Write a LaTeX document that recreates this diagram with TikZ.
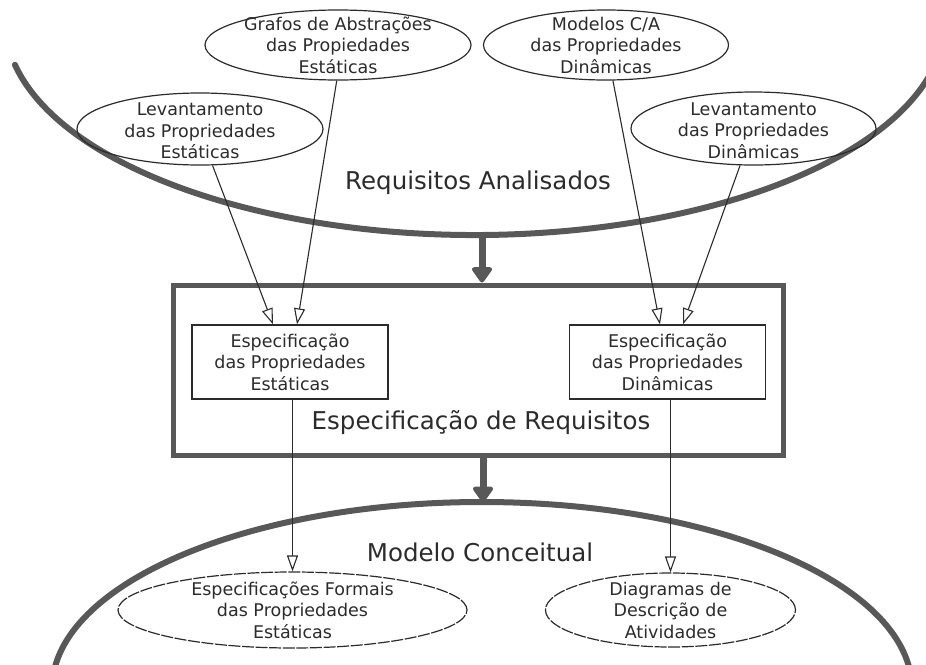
\documentclass[tikz,border=0pt]{standalone}
\usepackage{fontspec}
\setmainfont{DejaVu Sans}
\usetikzlibrary{arrows.meta,shapes.geometric}
\definecolor{ink}{HTML}{2B2B2B}
\definecolor{heavy}{HTML}{585858}

\begin{document}
\begin{tikzpicture}[x=1pt,y=-1pt,
  every node/.style={text=ink},
  small/.style={font=\fontsize{17.5}{21.5}\selectfont, align=center},
  big/.style={font=\fontsize{24.5}{28}\selectfont},
  oval/.style={ellipse, draw=ink, line width=1.2pt, inner sep=0pt},
  dashoval/.style={oval, dash pattern=on 12pt off 1.6pt},
  specbox/.style={rectangle, draw=ink, line width=1.3pt, minimum width=196pt,
    minimum height=74pt, inner sep=0pt, small},
  frame/.style={rectangle, draw=heavy, line width=5pt, minimum width=610pt,
    minimum height=170pt, inner sep=0pt},
  flow/.style={draw=ink, line width=1.1pt,
    -{Triangle[width=11pt, length=16pt, fill=white]}},
  bigflow/.style={draw=heavy, line width=7pt,
    -{Triangle[width=23pt, length=17pt, round]}},
  rim/.style={draw=heavy, line width=6pt, line cap=round},
]
\useasboundingbox (0,0) rectangle (926,664);
\clip (0,0) rectangle (926,664);

% outer rims: analysed requirements (top) and conceptual model (bottom)
\draw[rim] (475,21) ++(191.8:470pt and 214pt)
  arc[start angle=191.8, end angle=352, x radius=470pt, y radius=214pt];
\draw[rim] (482,689) ++(178:430pt and 187pt)
  arc[start angle=178, end angle=2, x radius=430pt, y radius=187pt];

% requirements specification frame
\node[frame] (frame) at (478,370) {};

% source ovals
\node[oval, minimum width=266pt, minimum height=70pt,
  label={[small]center:{Grafos de Abstrações\\das Propiedades\\Estáticas}}] (gr) at (338,45) {};
\node[oval, minimum width=245pt, minimum height=70pt,
  label={[small]center:{Modelos C/A\\das Propriedades\\Dinâmicas}}] (mo) at (606,45) {};
\node[oval, minimum width=246pt, minimum height=72pt,
  label={[small, yshift=-2pt]center:{Levantamento\\das Propriedades\\Estáticas}}] (lv1) at (200,129) {};
\node[oval, minimum width=245pt, minimum height=73pt,
  label={[small, yshift=-2pt]center:{Levantamento\\das Propriedades\\Dinâmicas}}] (lv2) at (753.5,128.5) {};

% specification boxes
\node[specbox] (ib1) at (290,362) {Especificação\\das Propriedades\\Estáticas};
\node[specbox] (ib2) at (667.5,362) {Especificação\\das Propriedades\\Dinâmicas};

% result ovals
\node[dashoval, minimum width=349pt, minimum height=76pt,
  label={[small]center:{Especificações Formais\\das Propriedades\\Estáticas}}] (ef) at (292.5,610) {};
\node[dashoval, minimum width=250pt, minimum height=74pt,
  label={[small]center:{Diagramas de\\Descrição de\\Atividades}}] (dd) at (670.5,610) {};

% stage titles
\node[big] (ra) at (478,183) {Requisitos Analisados};
\node[big] (er) at (481,423) {Especificação de Requisitos};
\node[big] (mc) at (480,552) {Modelo Conceitual};

% stage transitions
\coordinate (raFoot) at (482,235);
\coordinate (mcTop) at (483,502);
\draw[bigflow] (raFoot) -- (raFoot |- frame.north);
\draw[bigflow] (frame.south -| mcTop) -- (mcTop);

% inputs to the specifications
\draw[flow] (lv1.289) -- ([xshift=-17pt]ib1.north);
\draw[flow] (gr.268) -- ([xshift=7pt]ib1.north);
\draw[flow] (mo.281) -- ([xshift=-7.5pt]ib2.north);
\draw[flow] (lv2.250) -- ([xshift=15.5pt]ib2.north);

% specifications to the conceptual model
\draw[flow] (ib1.south -| ef.north) -- (ef.north);
\draw[flow] (ib2.south -| dd.north) -- (dd.north);
\end{tikzpicture}
\end{document}
